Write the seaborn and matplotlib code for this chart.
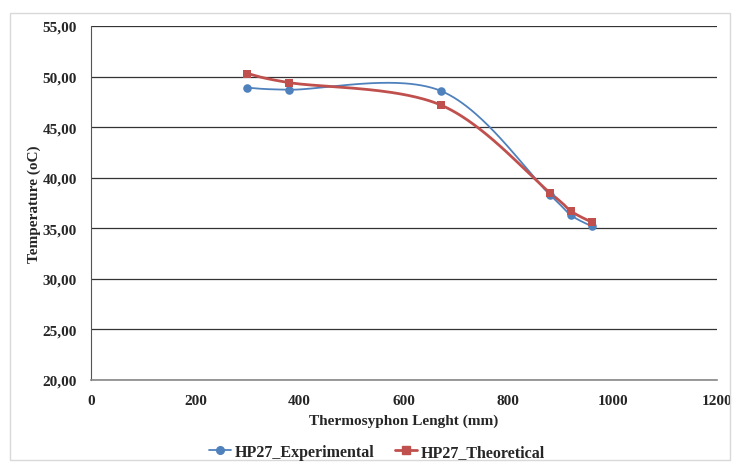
import numpy as np
import pandas as pd
import matplotlib
matplotlib.use('Agg')
import matplotlib.pyplot as plt
import seaborn as sns
from matplotlib.lines import Line2D
from matplotlib.patches import Rectangle
from matplotlib.ticker import FuncFormatter

# --- data ---
length_mm = [300, 380, 670, 880, 920, 960]
temp_experimental = [48.9, 48.7, 48.6, 38.3, 36.3, 35.2]
temp_theoretical = [50.3, 49.4, 47.2, 38.5, 36.7, 35.6]
series_names = ['HP27_Experimental', 'HP27_Theoretical']
series_colors = ['#4F81BD', '#C0504D']
series_markers = ['o', 's']


def smooth_curve(xs, ys, n=60):
    # Excel-like smoothed line: Catmull-Rom tangents as cubic Bezier segments
    pts = np.column_stack([xs, ys]).astype(float)
    out = []
    for i in range(len(pts) - 1):
        p0 = pts[i - 1] if i > 0 else pts[i]
        p1, p2 = pts[i], pts[i + 1]
        p3 = pts[i + 2] if i + 2 < len(pts) else pts[i + 1]
        c1 = p1 + (p2 - p0) / 6
        c2 = p2 - (p3 - p1) / 6
        t = np.linspace(0, 1, n)[:, None]
        seg = ((1 - t) ** 3) * p1 + 3 * ((1 - t) ** 2) * t * c1 + 3 * (1 - t) * t ** 2 * c2 + t ** 3 * p2
        out.append(seg if i == 0 else seg[1:])
    return np.vstack(out)


sns.set_style('white')
plt.rcParams['font.family'] = ['Liberation Serif', 'DejaVu Serif']

fig = plt.figure(figsize=(7.36, 4.64), dpi=100)
ax = fig.add_axes([91 / 736, 1 - 381 / 464, 626 / 736, 354 / 464])

# outer chart border
fig.patches.append(Rectangle((10 / 736, 3 / 464), 720 / 736, 447 / 464, transform=fig.transFigure,
                             fill=False, edgecolor='#d9d9d9', linewidth=1))

for name, ys, color, marker in zip(series_names, [temp_experimental, temp_theoretical],
                                   series_colors, series_markers):
    curve = smooth_curve(length_mm, ys)
    df_curve = pd.DataFrame({'x': curve[:, 0], 'y': curve[:, 1]})
    lw = 1.3 if marker == 'o' else 2.0
    sns.lineplot(data=df_curve, x='x', y='y', sort=False, color=color, linewidth=lw, ax=ax, zorder=3)
    df_pts = pd.DataFrame({'x': length_mm, 'y': ys})
    sns.scatterplot(data=df_pts, x='x', y='y', color=color, marker=marker, s=38,
                    edgecolor=color, linewidth=0, ax=ax, zorder=4)

ax.set_xlim(0, 1200)
ax.set_ylim(20, 55)
ax.set_xticks(range(0, 1201, 200))
ax.set_yticks(np.arange(20, 55.1, 5))
ax.yaxis.set_major_formatter(FuncFormatter(lambda v, p: f'{v:.2f}'.replace('.', ',')))
ax.grid(axis='y', color='#333333', linewidth=0.9)
ax.grid(axis='x', visible=False)
ax.set_axisbelow(True)

for side in ['top', 'right']:
    ax.spines[side].set_visible(False)
ax.spines['left'].set_color('#555555')
ax.spines['bottom'].set_color('#888888')
ax.spines['bottom'].set_linewidth(1.2)

ax.tick_params(axis='x', labelsize=11, length=0, pad=10)
ax.tick_params(axis='y', labelsize=11, length=0, pad=10)
for lbl in ax.get_xticklabels() + ax.get_yticklabels():
    lbl.set_fontweight('bold')

ax.set_xlabel('Thermosyphon Lenght (mm)', fontsize=11, fontweight='bold', labelpad=5)
ax.set_ylabel('Temperature (oC)', fontsize=11, fontweight='bold', labelpad=1)

handles = [Line2D([0], [0], color=c, marker=m, markersize=5.5, linewidth=lw)
           for c, m, lw in zip(series_colors, series_markers, [1.3, 2.0])]
fig.legend(handles, series_names, loc='center', bbox_to_anchor=(377 / 736, 1 - 453 / 464),
           ncol=2, frameon=False, prop={'weight': 'bold', 'size': 11.5},
           handlelength=1.4, handletextpad=0.2, columnspacing=1.3)

fig.savefig('out.png', dpi=100, facecolor='white')
